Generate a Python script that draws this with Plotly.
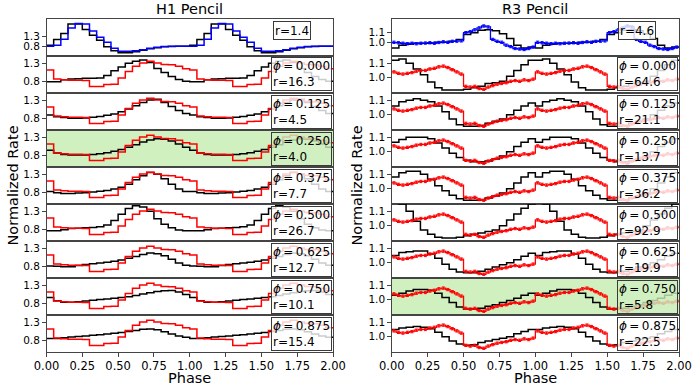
import numpy as np
import plotly.graph_objects as go
from plotly.subplots import make_subplots

# Pulse profiles over one rotation; every curve is drawn twice (phase 0-2).
# Model curves use 20 bins per cycle, the R3 observed profile 32 bins.

phis = ["0.000", "0.125", "0.250", "0.375", "0.500", "0.625", "0.750", "0.875"]
h1_r = ["16.3", "4.5", "4.0", "7.7", "26.7", "12.7", "10.1", "15.4"]
r3_r = ["64.6", "21.1", "13.7", "36.2", "92.9", "19.9", "5.8", "22.5"]
h1_top_r = "1.4"
r3_top_r = "4.6"
h1_best = 2   # phi = 0.250 row highlighted
r3_best = 6   # phi = 0.750 row highlighted

# H1 pencil: top panel
h1_top_black = [0.85, 1.13, 1.43, 1.90, 1.90, 1.63, 1.35, 1.10, 0.77, 0.57,
                0.48, 0.48, 0.52, 0.60, 0.68, 0.73, 0.77, 0.78, 0.80, 0.80]
h1_top_blue = [0.80, 0.85, 1.15, 1.70, 1.93, 1.90, 1.55, 1.25, 1.00, 0.70,
               0.55, 0.55, 0.58, 0.63, 0.70, 0.75, 0.78, 0.80, 0.80, 0.80]

# H1 observed profile (red), same in all phi rows
h1_obs = [1.12, 0.87, 0.85, 0.84, 0.84, 0.83, 0.67, 0.67, 0.72, 0.73,
          0.90, 1.08, 1.22, 1.31, 1.36, 1.31, 1.27, 1.26, 1.22, 1.15]

h1_model = [
    [0.80, 0.80, 0.85, 0.87, 0.88, 0.89, 0.89, 0.90, 0.97, 1.10, 1.20, 1.30, 1.36, 1.39, 1.32, 1.16, 1.05, 0.94, 0.86, 0.81],
    [0.90, 0.85, 0.83, 0.81, 0.81, 0.82, 0.84, 0.86, 0.89, 0.93, 0.99, 1.06, 1.15, 1.24, 1.31, 1.33, 1.24, 1.13, 1.02, 0.94],
    [0.95, 0.87, 0.83, 0.82, 0.82, 0.82, 0.83, 0.85, 0.88, 0.92, 0.97, 1.03, 1.10, 1.17, 1.23, 1.26, 1.25, 1.20, 1.12, 1.03],
    [0.83, 0.80, 0.78, 0.78, 0.79, 0.80, 0.82, 0.84, 0.86, 0.90, 0.95, 1.03, 1.15, 1.26, 1.35, 1.30, 1.18, 1.03, 0.90, 0.83],
    [0.77, 0.77, 0.80, 0.83, 0.84, 0.85, 0.86, 0.88, 0.93, 1.05, 1.22, 1.38, 1.45, 1.42, 1.30, 1.10, 0.95, 0.85, 0.79, 0.77],
    [0.82, 0.81, 0.80, 0.80, 0.83, 0.86, 0.88, 0.90, 0.92, 0.95, 0.98, 1.03, 1.08, 1.13, 1.17, 1.15, 1.10, 1.00, 0.90, 0.84],
    [0.97, 0.88, 0.84, 0.84, 0.85, 0.87, 0.89, 0.91, 0.93, 0.95, 0.97, 0.99, 1.02, 1.06, 1.10, 1.13, 1.15, 1.16, 1.12, 1.05],
    [0.86, 0.86, 0.88, 0.90, 0.91, 0.93, 0.95, 0.96, 0.98, 1.00, 1.02, 1.05, 1.08, 1.11, 1.12, 1.10, 1.04, 0.98, 0.93, 0.89],
]

# R3 pencil: top panel
r3_top_black = [0.94, 0.97, 0.98, 0.99, 0.99, 0.99, 1.00, 1.00, 1.01, 1.03,
                1.08, 1.10, 1.125, 1.13, 1.12, 1.09, 1.04, 0.97, 0.94, 0.95]
r3_top_blue = [1.000, 0.995, 0.990, 0.985, 0.990, 0.985, 0.990, 0.992,
               0.995, 0.990, 0.998, 1.005, 1.000, 1.010, 1.012, 1.015,
               1.100, 1.110, 1.130, 1.150, 1.170, 1.160, 1.030, 1.010,
               1.000, 0.970, 0.955, 0.935, 0.930, 0.925, 0.935, 0.950]
r3_top_err = 0.012

# R3 observed profile (red), same in all phi rows
r3_obs = [1.040, 1.030, 1.025, 1.030, 1.035, 1.045, 1.050, 1.050,
          1.060, 1.065, 1.075, 1.080, 1.070, 1.055, 1.040, 1.025,
          0.940, 0.935, 0.940, 0.925, 0.920, 0.935, 0.945, 0.955,
          0.960, 0.965, 0.975, 0.980, 0.975, 0.985, 0.980, 0.990]
r3_obs_err = 0.008

r3_model = [
    [1.12, 1.13, 1.10, 1.06, 1.02, 0.97, 0.93, 0.915, 0.915, 0.915, 0.92, 0.93, 0.94, 0.96, 0.965, 0.975, 1.01, 1.05, 1.09, 1.12],
    [1.06, 1.09, 1.10, 1.11, 1.10, 1.09, 1.06, 1.02, 0.97, 0.93, 0.92, 0.92, 0.925, 0.94, 0.955, 0.97, 1.00, 1.03, 1.06, 1.08],
    [1.065, 1.085, 1.10, 1.10, 1.10, 1.09, 1.06, 1.025, 0.99, 0.96, 0.94, 0.93, 0.93, 0.935, 0.95, 0.97, 1.00, 1.035, 1.065, 1.09],
    [1.08, 1.11, 1.12, 1.12, 1.10, 1.065, 1.02, 0.985, 0.955, 0.93, 0.92, 0.92, 0.92, 0.935, 0.95, 0.97, 1.00, 1.04, 1.08, 1.11],
    [1.16, 1.15, 1.10, 1.03, 0.97, 0.94, 0.92, 0.915, 0.915, 0.92, 0.93, 0.94, 0.95, 0.96, 0.97, 1.00, 1.04, 1.08, 1.12, 1.15],
    [1.05, 1.07, 1.075, 1.08, 1.08, 1.06, 1.03, 0.99, 0.955, 0.935, 0.93, 0.93, 0.94, 0.955, 0.97, 0.985, 1.00, 1.02, 1.045, 1.065],
    [1.03, 1.045, 1.06, 1.07, 1.07, 1.065, 1.045, 1.015, 0.98, 0.95, 0.935, 0.935, 0.94, 0.955, 0.965, 0.98, 0.995, 1.01, 1.03, 1.045],
    [1.05, 1.06, 1.065, 1.07, 1.065, 1.055, 1.03, 1.00, 0.97, 0.95, 0.94, 0.945, 0.96, 0.97, 0.98, 0.99, 1.00, 1.02, 1.035, 1.05],
]

W, H = 694, 387
FONT = "DejaVu Sans"
GREEN = "rgb(208,240,192)"
EDGE = "#444444"


def px(x):
    return x / W


def py(y):
    return 1 - y / H


def step_xy(vals):
    n = len(vals)
    x = np.arange(2 * n + 1) / n
    y = list(vals) * 2 + [vals[-1]]
    return x, y


def centers_xy(vals):
    n = len(vals)
    x = (np.arange(2 * n) + 0.5) / n
    return x, list(vals) * 2


def add_step(fig, vals, color, row, col, width=1.5):
    x, y = step_xy(vals)
    fig.add_trace(go.Scatter(x=x, y=y, mode="lines", line=dict(color=color, width=width, shape="hv"),
                             hoverinfo="skip"), row=row, col=col)


def add_err(fig, vals, err, color, row, col):
    x, y = centers_xy(vals)
    fig.add_trace(go.Scatter(x=x, y=y, mode="markers", marker=dict(size=1, color=color, opacity=0),
                             error_y=dict(type="constant", value=err, color=color, thickness=1, width=1.5),
                             hoverinfo="skip"), row=row, col=col)


fig = make_subplots(rows=9, cols=2)

col_px = [(46.5, 333.0), (391.7, 679.0)]
ranges = {(1, 1): [0.315, 2.15], (1, 2): [0.857, 1.243]}

for c in (1, 2):
    for r in range(1, 10):
        top = 19 + 37 * (r - 1)
        bot = top + 37
        fig.update_xaxes(domain=[px(col_px[c - 1][0]), px(col_px[c - 1][1])], range=[0, 2],
                         showgrid=False, zeroline=False,
                         showline=True, mirror=True, linecolor=EDGE, linewidth=1, automargin=False,
                         showticklabels=(r == 9), ticks="outside" if r == 9 else "",
                         tickvals=[0, 0.25, 0.5, 0.75, 1.0, 1.25, 1.5, 1.75, 2.0],
                         ticktext=["0.00", "0.25", "0.50", "0.75", "1.00", "1.25", "1.50", "1.75", "2.00"],
                         ticklen=3.5, tickcolor=EDGE, tickfont=dict(size=11.5, family=FONT, color="black"),
                         row=r, col=c)
        if c == 1:
            yr = ranges.get((r, c), [0.49, 1.50])
            tv = [0.8, 1.3]
        else:
            yr = ranges.get((r, c), [0.894, 1.15])
            tv = [1.0, 1.1]
        fig.update_yaxes(domain=[py(bot), py(top)], range=yr, showgrid=False, zeroline=False,
                         showline=True, mirror=True, linecolor=EDGE, linewidth=1, automargin=False,
                         ticks="outside", ticklen=3.5, tickcolor=EDGE, tickvals=tv,
                         ticktext=[f"{v:.1f}" for v in tv],
                         tickfont=dict(size=10.5, family=FONT, color="black"), row=r, col=c)

# top panels
add_step(fig, h1_top_black, "black", 1, 1)
add_step(fig, h1_top_blue, "blue", 1, 1)
add_step(fig, r3_top_black, "black", 1, 2)
add_step(fig, r3_top_blue, "blue", 1, 2, width=1.3)
add_err(fig, r3_top_blue, r3_top_err, "blue", 1, 2)

# phi rows
for i in range(8):
    add_step(fig, h1_model[i], "black", i + 2, 1)
    add_step(fig, h1_obs, "red", i + 2, 1)
    add_step(fig, r3_model[i], "black", i + 2, 2)
    add_step(fig, r3_obs, "red", i + 2, 2, width=1.3)
    add_err(fig, r3_obs, r3_obs_err, "red", i + 2, 2)


def axis_id(r, c):
    n = (r - 1) * 2 + c
    return "" if n == 1 else str(n)


def add_box(text, r, c, green=False, width=None):
    n = axis_id(r, c)
    bg = "rgba(208,240,192,0.8)" if green else "rgba(255,255,255,0.8)"
    if width:
        pos = dict(x=0.789, xanchor="left", width=width, height=15)
    else:
        pos = dict(x=1, xanchor="right", xshift=-1)
    fig.add_annotation(y=1, xref=f"x{n} domain", yref=f"y{n} domain",
                       yanchor="top", yshift=-1.5, text=text, showarrow=False, align="left",
                       bgcolor=bg, bordercolor="#3a3a3a", borderwidth=1,
                       borderpad=1, font=dict(size=12, family=FONT, color="black"), **pos)


add_box("r=" + h1_top_r, 1, 1, width=34)
add_box("r=" + r3_top_r, 1, 2, width=34)
for i in range(8):
    label = "<i>ϕ</i>\u2009=\u2009"
    add_box(f"{label}{phis[i]}<br>r={h1_r[i]}", i + 2, 1, green=(i == h1_best))
    add_box(f"{label}{phis[i]}<br>r={r3_r[i]}", i + 2, 2, green=(i == r3_best))
    for c, best in ((1, h1_best), (2, r3_best)):
        if i == best:
            n = axis_id(i + 2, c)
            fig.add_shape(type="rect", xref=f"x{n} domain", yref=f"y{n} domain", x0=0, x1=1, y0=0, y1=1,
                          fillcolor=GREEN, line_width=0, layer="below")

# column titles and axis labels
centered = dict(xref="paper", yref="paper", xanchor="center", yanchor="middle", showarrow=False,
                font=dict(size=14.5, family=FONT, color="black"))
for (x0, x1), title in zip(col_px, ("H1 Pencil", "R3 Pencil")):
    xc = px((x0 + x1) / 2)
    fig.add_annotation(x=xc, y=py(9), text=title, **centered)
    fig.add_annotation(x=xc, y=py(378), text="Phase", **centered)
for xl in (12, 356):
    fig.add_annotation(x=px(xl), y=py(185.5), text="Normalized Rate", textangle=-90, **centered)

fig.update_layout(width=W, height=H, margin=dict(l=0, r=0, t=0, b=0), showlegend=False,
                  plot_bgcolor="white", paper_bgcolor="white", font=dict(family=FONT))

# drop the page's default body margin so the figure sits at the window corner
fig.write_html("out.html", config={"displayModeBar": False},
               post_script="document.body.style.margin = '0';")
